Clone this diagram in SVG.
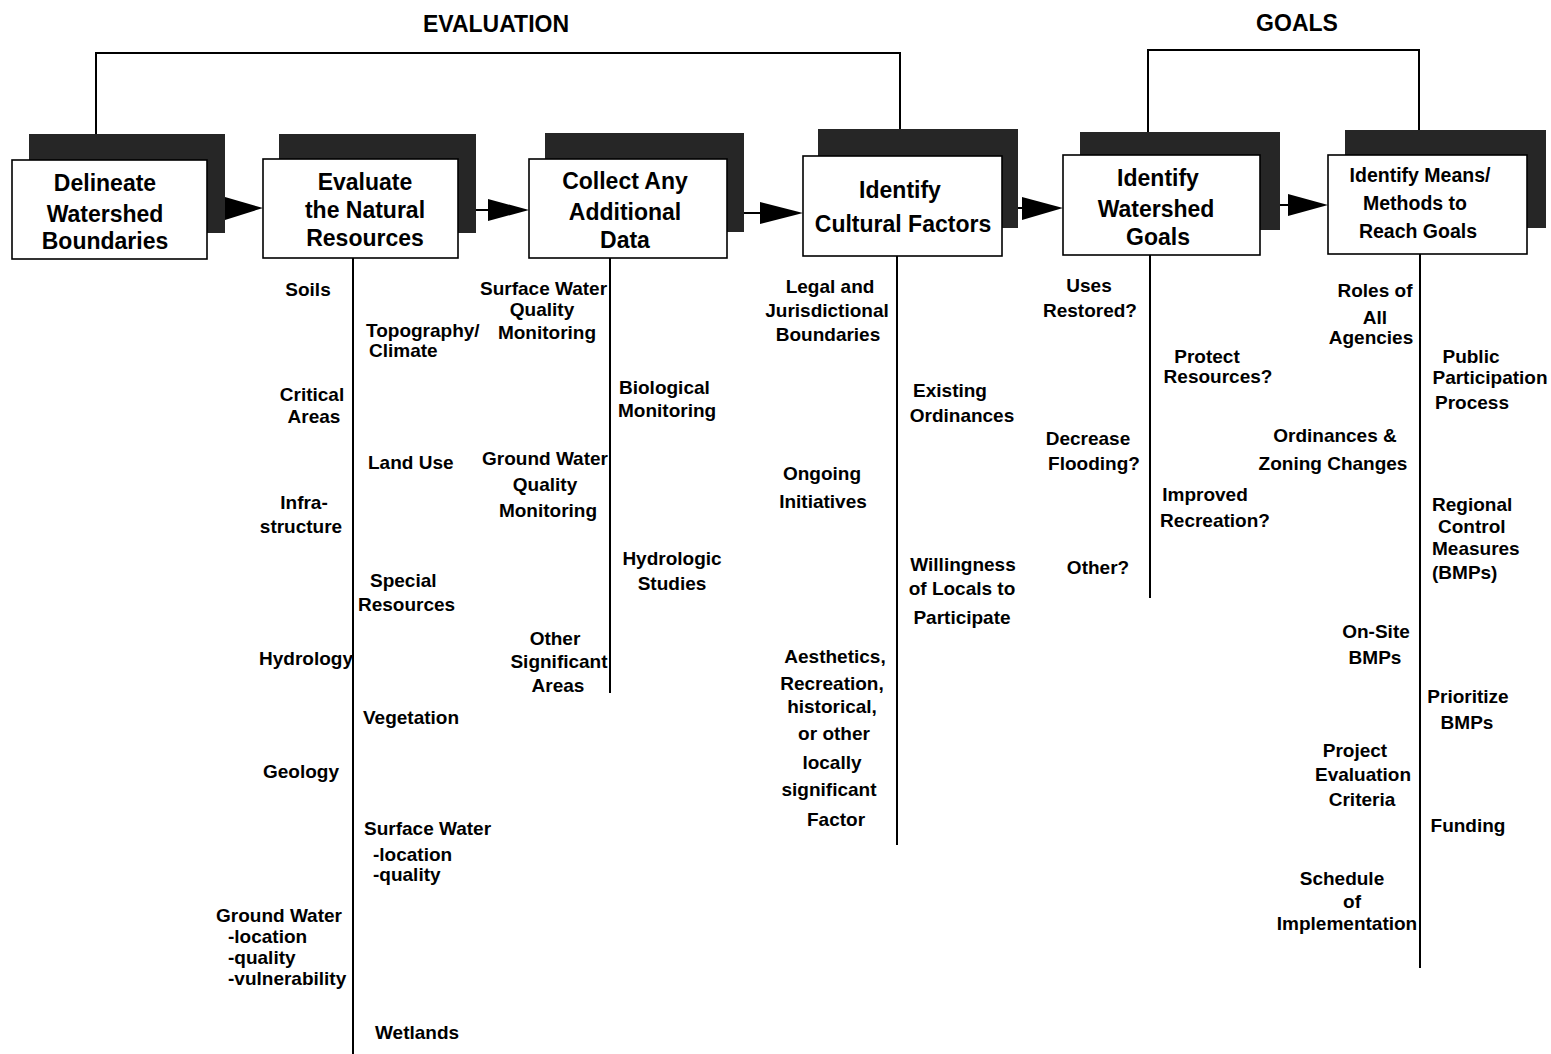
<svg xmlns="http://www.w3.org/2000/svg" width="1551" height="1054" viewBox="0 0 1551 1054">
<style>
text{font-family:"Liberation Sans",Arial,sans-serif;font-weight:bold;fill:#000}
.t{font-size:23px;text-anchor:middle}
.s{font-size:19.5px;text-anchor:middle}
.l{font-size:19px;text-anchor:middle}
.ls{font-size:19px;text-anchor:start}
.h{font-size:23px;text-anchor:middle}
.sh{fill:#262626}
.bx{fill:#fff;stroke:#000;stroke-width:1.6}
.ln{fill:none;stroke:#000;stroke-width:2}
.ah{fill:#000}
</style>
<rect width="1551" height="1054" fill="#fff"/>
<g id="headings">
<text class="h" x="496" y="32">EVALUATION</text>
<text class="h" x="1297" y="31">GOALS</text>
</g>
<g id="n1">
<rect class="sh" x="29" y="134" width="196" height="99"/>
<rect class="bx" x="12" y="160" width="195" height="99"/>
<text class="t" x="105" y="191">Delineate</text>
<text class="t" x="105" y="222">Watershed</text>
<text class="t" x="105" y="249">Boundaries</text>
</g>
<g id="n2">
<rect class="sh" x="279" y="134" width="197" height="99"/>
<rect class="bx" x="263" y="159" width="195" height="99"/>
<text class="t" x="365" y="190">Evaluate</text>
<text class="t" x="365" y="218">the Natural</text>
<text class="t" x="365" y="246">Resources</text>
</g>
<g id="n3">
<rect class="sh" x="545" y="133" width="199" height="99"/>
<rect class="bx" x="529" y="159" width="198" height="99"/>
<text class="t" x="625" y="189">Collect Any</text>
<text class="t" x="625" y="220">Additional</text>
<text class="t" x="625" y="248">Data</text>
</g>
<g id="n4">
<rect class="sh" x="818" y="129" width="200" height="99"/>
<rect class="bx" x="803" y="156" width="199" height="100"/>
<text class="t" x="900" y="198">Identify</text>
<text class="t" x="903" y="232">Cultural Factors</text>
</g>
<g id="n5">
<rect class="sh" x="1080" y="132" width="200" height="98"/>
<rect class="bx" x="1063" y="155" width="197" height="100"/>
<text class="t" x="1158" y="186">Identify</text>
<text class="t" x="1156" y="217">Watershed</text>
<text class="t" x="1158" y="245">Goals</text>
</g>
<g id="n6">
<rect class="sh" x="1345" y="130" width="201" height="98"/>
<rect class="bx" x="1328" y="155" width="199" height="99"/>
<text class="s" x="1420" y="182">Identify Means/</text>
<text class="s" x="1415" y="210">Methods to</text>
<text class="s" x="1418" y="238">Reach Goals</text>
</g>
<g id="list-natural-resources">
<text class="l" x="308" y="296">Soils</text>
<text class="l" x="312" y="401">Critical</text>
<text class="l" x="314" y="423">Areas</text>
<text class="l" x="304" y="509">Infra-</text>
<text class="l" x="301" y="533">structure</text>
<text class="l" x="306" y="665">Hydrology</text>
<text class="l" x="301" y="778">Geology</text>
<text class="ls" x="216" y="922">Ground Water</text>
<text class="ls" x="228" y="943">-location</text>
<text class="ls" x="228" y="964">-quality</text>
<text class="ls" x="228" y="985">-vulnerability</text>
<text class="ls" x="366" y="337">Topography/</text>
<text class="ls" x="369" y="357">Climate</text>
<text class="ls" x="368" y="469">Land Use</text>
<text class="ls" x="370" y="587">Special</text>
<text class="ls" x="358" y="611">Resources</text>
<text class="ls" x="363" y="724">Vegetation</text>
<text class="ls" x="364" y="835">Surface Water</text>
<text class="ls" x="373" y="861">-location</text>
<text class="ls" x="373" y="881">-quality</text>
<text class="ls" x="375" y="1039">Wetlands</text>
</g>
<g id="list-additional-data">
<text class="ls" x="480" y="295">Surface Water</text>
<text class="l" x="542" y="316">Quality</text>
<text class="l" x="547" y="339">Monitoring</text>
<text class="ls" x="482" y="465">Ground Water</text>
<text class="l" x="545" y="491">Quality</text>
<text class="l" x="548" y="517">Monitoring</text>
<text class="l" x="555" y="645">Other</text>
<text class="l" x="559" y="668">Significant</text>
<text class="l" x="558" y="692">Areas</text>
<text class="ls" x="619" y="394">Biological</text>
<text class="ls" x="618" y="417">Monitoring</text>
<text class="l" x="672" y="565">Hydrologic</text>
<text class="l" x="672" y="590">Studies</text>
</g>
<g id="list-cultural-factors">
<text class="l" x="830" y="293">Legal and</text>
<text class="l" x="827" y="317">Jurisdictional</text>
<text class="l" x="828" y="341">Boundaries</text>
<text class="l" x="822" y="480">Ongoing</text>
<text class="l" x="823" y="508">Initiatives</text>
<text class="l" x="835" y="663">Aesthetics,</text>
<text class="l" x="832" y="690">Recreation,</text>
<text class="l" x="832" y="713">historical,</text>
<text class="l" x="834" y="740">or other</text>
<text class="l" x="832" y="769">locally</text>
<text class="l" x="829" y="796">significant</text>
<text class="l" x="836" y="826">Factor</text>
<text class="l" x="950" y="397">Existing</text>
<text class="l" x="962" y="422">Ordinances</text>
<text class="l" x="963" y="571">Willingness</text>
<text class="l" x="962" y="595">of Locals to</text>
<text class="l" x="962" y="624">Participate</text>
</g>
<g id="list-goals">
<text class="l" x="1089" y="292">Uses</text>
<text class="l" x="1090" y="317">Restored?</text>
<text class="l" x="1088" y="445">Decrease</text>
<text class="l" x="1094" y="470">Flooding?</text>
<text class="l" x="1098" y="574">Other?</text>
<text class="l" x="1207" y="363">Protect</text>
<text class="l" x="1218" y="383">Resources?</text>
<text class="l" x="1205" y="501">Improved</text>
<text class="l" x="1215" y="527">Recreation?</text>
</g>
<g id="list-means">
<text class="l" x="1375" y="297">Roles of</text>
<text class="l" x="1375" y="324">All</text>
<text class="l" x="1371" y="344">Agencies</text>
<text class="l" x="1335" y="442">Ordinances &amp;</text>
<text class="l" x="1333" y="470">Zoning Changes</text>
<text class="l" x="1376" y="638">On-Site</text>
<text class="l" x="1375" y="664">BMPs</text>
<text class="l" x="1355" y="757">Project</text>
<text class="l" x="1363" y="781">Evaluation</text>
<text class="l" x="1362" y="806">Criteria</text>
<text class="l" x="1342" y="885">Schedule</text>
<text class="l" x="1352" y="908">of</text>
<text class="l" x="1347" y="930">Implementation</text>
<text class="l" x="1471" y="363">Public</text>
<text class="l" x="1490" y="384">Participation</text>
<text class="l" x="1472" y="409">Process</text>
<text class="ls" x="1432" y="511">Regional</text>
<text class="ls" x="1438" y="533">Control</text>
<text class="ls" x="1432" y="555">Measures</text>
<text class="ls" x="1432" y="579">(BMPs)</text>
<text class="l" x="1468" y="703">Prioritize</text>
<text class="l" x="1467" y="729">BMPs</text>
<text class="l" x="1468" y="832">Funding</text>
</g>
<g id="connectors">
<path class="ln" d="M96,134 V53 H900 V129"/>
<path class="ln" d="M1148,132 V50 H1419 V130"/>
<polygon class="ah" points="225,197 263,208 225,220"/>
<path class="ln" d="M476,210 H490"/>
<polygon class="ah" points="488,199 529,210 488,221"/>
<path class="ln" d="M744,213 H762"/>
<polygon class="ah" points="760,202 803,213 760,224"/>
<path class="ln" d="M1018,208 H1024"/>
<polygon class="ah" points="1022,197 1063,208 1022,220"/>
<path class="ln" d="M1280,205 H1290"/>
<polygon class="ah" points="1288,194 1328,205 1288,216"/>
<path class="ln" d="M353,258 V1054"/>
<path class="ln" d="M610,258 V693"/>
<path class="ln" d="M897,256 V845"/>
<path class="ln" d="M1150,255 V598"/>
<path class="ln" d="M1420,254 V968"/>
</g>
</svg>
